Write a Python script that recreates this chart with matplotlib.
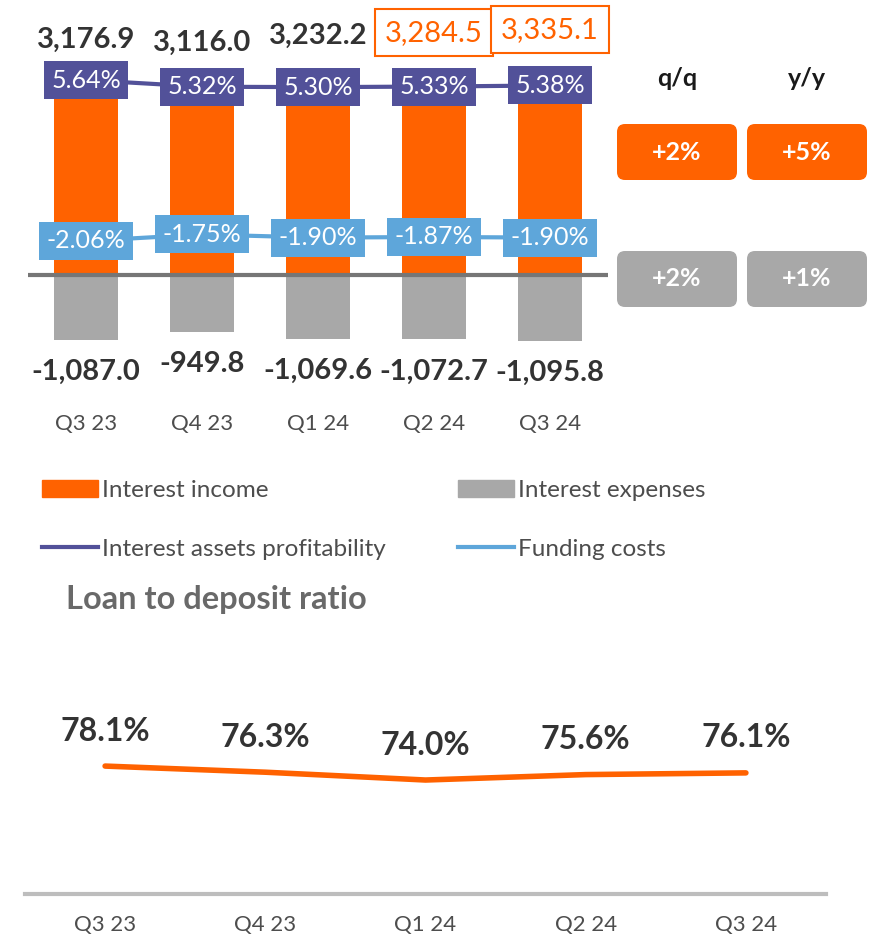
import matplotlib.pyplot as plt
from matplotlib.lines import Line2D
from matplotlib.patches import FancyBboxPatch, Patch

quarters = ["Q3 23", "Q4 23", "Q1 24", "Q2 24", "Q3 24"]
interest_income = [3176.9, 3116.0, 3232.2, 3284.5, 3335.1]
interest_expenses = [-1087.0, -949.8, -1069.6, -1072.7, -1095.8]
assets_profitability = [5.64, 5.32, 5.30, 5.33, 5.38]
funding_costs = [-2.06, -1.75, -1.90, -1.87, -1.90]
loan_to_deposit = [78.1, 76.3, 74.0, 75.6, 76.1]

change_headers = ["q/q", "y/y"]
income_changes = ["+2%", "+5%"]
expense_changes = ["+2%", "+1%"]
highlighted = [False, False, False, True, True]

ORANGE = "#FF6200"
GREY = "#A8A8A8"
PURPLE = "#525199"
BLUE = "#5EA6DA"
DARK = "#333333"
MID = "#4D4D4D"

W, H = 877, 938

plt.rcParams["font.family"] = ["Lato", "DejaVu Sans"]


def frac(x0, y0, x1, y1):
    # pixel box measured from the top-left corner -> figure fraction rect
    return [x0 / W, 1 - y1 / H, (x1 - x0) / W, (y1 - y0) / H]


fig = plt.figure(figsize=(W / 100, H / 100), dpi=100)
x = list(range(len(quarters)))

# --- bars: interest income / expenses ---
ax = fig.add_axes(frac(28, 0, 608, 400))
ax.bar(x, interest_income, width=0.56, color=ORANGE, zorder=2)
ax.bar(x, interest_expenses, width=0.56, color=GREY, zorder=2)
ax.axhline(0, color="#767676", lw=3, zorder=3)
ax.set_xlim(-0.5, 4.5)
ax.set_ylim(-2083, 4583)
for side in ax.spines.values():
    side.set_visible(False)
ax.set_yticks([])
ax.set_xticks(x)
ax.set_xticklabels(quarters, fontsize=16, color=MID)
ax.tick_params(axis="x", length=0, pad=10)

for i, v in enumerate(interest_income):
    hl = highlighted[i]
    box = dict(boxstyle="square,pad=0.36", fc="white", ec=ORANGE, lw=1.5) if hl else None
    ax.annotate(f"{v:,.1f}", (i, v), xytext=(0, 45), textcoords="offset pixels",
                ha="center", va="center", fontsize=21,
                fontweight="normal" if hl else "bold",
                color=ORANGE if hl else DARK, bbox=box, zorder=5)
for i, v in enumerate(interest_expenses):
    ax.annotate(f"{v:,.1f}", (i, v), xytext=(0, -32), textcoords="offset pixels",
                ha="center", va="center", fontsize=21, fontweight="bold", color=DARK)

# --- rate lines on a secondary scale ---
ax2 = ax.twinx()
ax2.set_ylim(-9.67, 9.47)
ax2.axis("off")
ax2.plot(x, assets_profitability, color=PURPLE, lw=3, zorder=2)
ax2.plot(x, funding_costs, color=BLUE, lw=3, zorder=2)
for series, color in [(assets_profitability, PURPLE), (funding_costs, BLUE)]:
    for i, v in enumerate(series):
        ax2.annotate(f"{v:.2f}%", (i, v), ha="center", va="center", fontsize=18,
                     color="white", zorder=4,
                     bbox=dict(boxstyle="square,pad=0.3", fc=color, ec="none"))

# --- q/q, y/y panel ---
ov = fig.add_axes([0, 0, 1, 1])
ov.set_xlim(0, W)
ov.set_ylim(H, 0)
ov.axis("off")
for col, (cx, header) in enumerate(zip([677, 807], change_headers)):
    ov.text(cx, 78, header, ha="center", va="center", fontsize=18,
            fontweight="bold", color="#1A1A1A")
    for row, (cy, values, color) in enumerate([(152, income_changes, ORANGE),
                                              (279, expense_changes, GREY)]):
        ov.add_patch(FancyBboxPatch((cx - 60, cy - 28), 120, 56,
                                    boxstyle="round,pad=0,rounding_size=8",
                                    fc=color, ec="none"))
        ov.text(cx, cy, values[col], ha="center", va="center", fontsize=18,
                fontweight="bold", color="white")

# --- legend ---
legend_kw = dict(frameon=False, loc="upper left", borderpad=0, borderaxespad=0,
                 handlelength=2.3, handletextpad=0.15, labelspacing=1.55,
                 fontsize=17.5, labelcolor=MID)
fig.legend([Patch(color=ORANGE), Line2D([], [], color=PURPLE, lw=3)],
           ["Interest income", "Interest assets profitability"],
           bbox_to_anchor=(42 / W, 1 - 480 / H), **legend_kw)
fig.legend([Patch(color=GREY), Line2D([], [], color=BLUE, lw=3)],
           ["Interest expenses", "Funding costs"],
           bbox_to_anchor=(458 / W, 1 - 480 / H), **legend_kw)

fig.text(66 / W, 1 - 599 / H, "Loan to deposit ratio", ha="left", va="center",
         fontsize=23.5, fontweight="bold", color="#696969")

# --- loan to deposit line ---
bx = fig.add_axes(frac(25, 680, 826, 894))
bx.plot(x, loan_to_deposit, color=ORANGE, lw=4, solid_capstyle="round",
        solid_joinstyle="round")
bx.set_xlim(-0.5, 4.5)
bx.set_ylim(40.5, 103.4)
for name, side in bx.spines.items():
    side.set_visible(name == "bottom")
bx.spines["bottom"].set_color("#BDBDBD")
bx.spines["bottom"].set_linewidth(3)
bx.set_yticks([])
bx.set_xticks(x)
bx.set_xticklabels(quarters, fontsize=16, color=MID)
bx.tick_params(axis="x", length=0, pad=15)
for i, v in enumerate(loan_to_deposit):
    bx.annotate(f"{v:.1f}%", (i, v), xytext=(0, 35), textcoords="offset pixels",
                ha="center", va="center", fontsize=23, fontweight="bold", color=DARK)

fig.savefig("out.png", dpi=100)
